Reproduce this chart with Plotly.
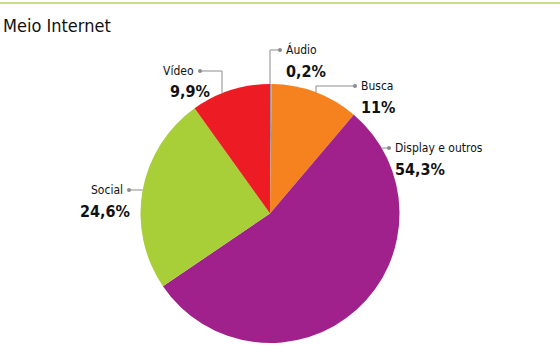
import math
import plotly.graph_objects as go

# Data
categories = ["Áudio", "Busca", "Display e outros", "Social", "Vídeo"]
values = [0.2, 11, 54.3, 24.6, 9.9]
value_labels = ["0,2%", "11%", "54,3%", "24,6%", "9,9%"]
colors = ["#9a9a9a", "#F5821F", "#A0218C", "#A8CF38", "#ED1C24"]

W, H = 560, 357
CX, CY, R = 270, 213.5, 129.5

# label layout (pixels): dot position, elbow x (None = horizontal to edge), text side
label_cfg = {
    "Áudio": dict(dot=(280, 50), elbow_x=270, side="right", vy=72, vx=284),
    "Busca": dict(dot=(355, 86), elbow_x=316, side="right", vy=107, vx=359),
    "Display e outros": dict(dot=(389, 148), elbow_x=None, side="right", vy=169, vx=393),
    "Social": dict(dot=(129, 190), elbow_x=None, side="left", vy=211, vx=78),
    "Vídeo": dict(dot=(200, 71), elbow_x=222, side="left", vy=92, vx=168),
}

COND = "DejaVu Sans Condensed, Liberation Sans Narrow, Arial Narrow, sans-serif"

def px(x):
    return x / W

def py(y):
    return 1 - y / H

fig = go.Figure()
fig.add_trace(go.Pie(
    labels=categories, values=values, sort=False, direction="clockwise",
    rotation=0, marker=dict(colors=colors, line=dict(width=0)),
    textinfo="none", hoverinfo="label+percent", showlegend=False,
    domain=dict(x=[px(CX - R), px(CX + R)], y=[py(CY + R), py(CY - R)]),
))

shapes = []
annotations = []
line_style = dict(color="#8c8c8c", width=1)
for cat, vl in zip(categories, value_labels):
    c = label_cfg[cat]
    dx, dy = c["dot"]
    if c["elbow_x"] is not None:
        ex = c["elbow_x"]
        ey = CY - math.sqrt(max(R * R - (ex - CX) ** 2, 0))
        pts = [(dx, dy), (ex, dy), (ex, ey)]
    else:
        hx = CX + math.copysign(math.sqrt(max(R * R - (dy - CY) ** 2, 0)), dx - CX)
        pts = [(dx, dy), (hx, dy)]
    path = "M " + " L ".join(f"{px(x)},{py(y)}" for x, y in pts)
    shapes.append(dict(type="path", xref="paper", yref="paper", path=path, line=line_style))
    shapes.append(dict(type="circle", xref="paper", yref="paper",
                       x0=px(dx - 2), x1=px(dx + 2), y0=py(dy + 2), y1=py(dy - 2),
                       fillcolor="#8c8c8c", line=dict(width=0)))
    if c["side"] == "right":
        tx, anchor = dx + 4, "left"
    else:
        tx, anchor = dx - 4, "right"
    annotations.append(dict(x=px(tx), y=py(dy), xref="paper", yref="paper",
                            text=cat, showarrow=False, xanchor=anchor, yanchor="middle",
                            font=dict(family=COND, size=12, color="#111")))
    annotations.append(dict(x=px(c["vx"]), y=py(c["vy"]),
                            xref="paper", yref="paper", text=f"<b>{vl}</b>", showarrow=False,
                            xanchor="left", yanchor="middle",
                            font=dict(family=COND, size=16, color="#111")))

# title
annotations.append(dict(x=px(1), y=py(26), xref="paper", yref="paper", text="Meio Internet",
                        showarrow=False, xanchor="left", yanchor="middle",
                        font=dict(family=COND, size=18, color="#111")))
# top rule
shapes.append(dict(type="line", xref="paper", yref="paper", x0=0, x1=1, y0=py(3), y1=py(3),
                   line=dict(color="#C8DC8E", width=2)))

fig.update_layout(width=W, height=H, margin=dict(l=0, r=0, t=0, b=0),
                  paper_bgcolor="white", plot_bgcolor="white",
                  shapes=shapes, annotations=annotations)
fig.write_html("out.html", config={"displayModeBar": False},
               post_script="document.body.style.margin='0';document.body.style.overflow='hidden';")
